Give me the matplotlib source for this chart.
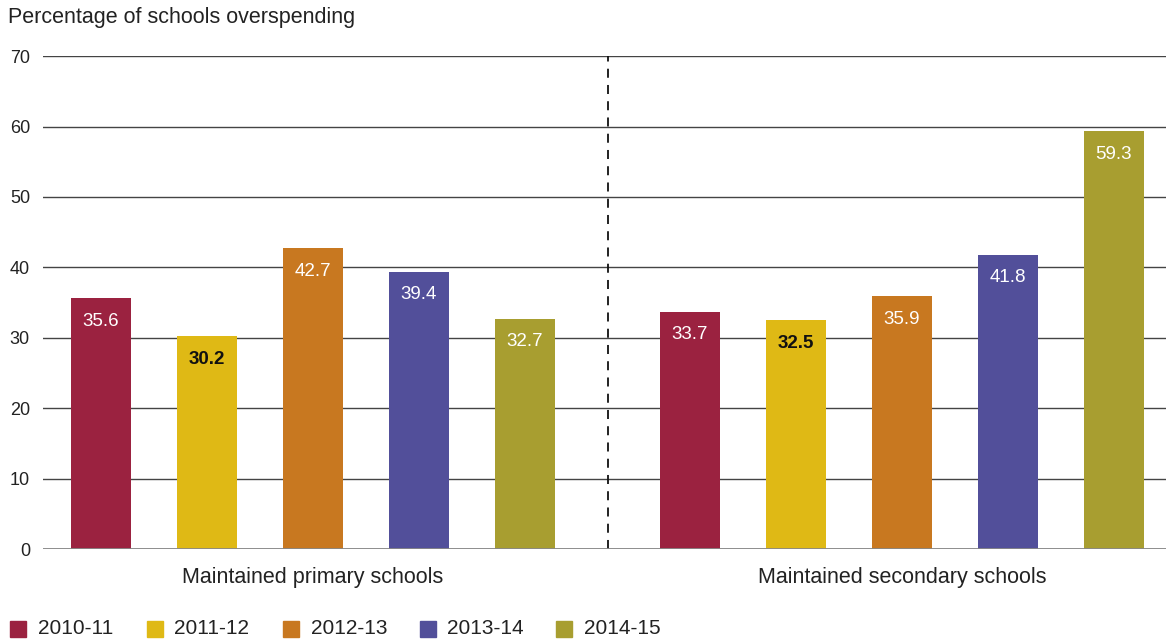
import matplotlib.pyplot as plt
import numpy as np

plt.rcParams['font.family'] = ['Liberation Sans', 'DejaVu Sans']

groups = ["Maintained primary schools", "Maintained secondary schools"]
years = ["2010-11", "2011-12", "2012-13", "2013-14", "2014-15"]
values = {
    "2010-11": [35.6, 33.7],
    "2011-12": [30.2, 32.5],
    "2012-13": [42.7, 35.9],
    "2013-14": [39.4, 41.8],
    "2014-15": [32.7, 59.3],
}
colors = ["#9b2240", "#dfb915", "#c87820", "#524f9a", "#a89e30"]
label_colors = ["white", "#111111", "white", "white", "white"]

text_col = "#222222"
group_offset = 5.557
bar_w = 0.57
W, H = 1166, 641

fig = plt.figure(figsize=(W / 100, H / 100), dpi=100)
ax = fig.add_axes([43 / W, 0.1435, 1 - 43 / W, 0.769])

for g in range(len(groups)):
    for i, yr in enumerate(years):
        x = g * group_offset + i
        v = values[yr][g]
        ax.bar(x, v, width=bar_w, color=colors[i], zorder=3)
        ax.text(x, v - 3.3, f"{v:.1f}", ha="center", va="center", fontsize=13.5,
                color=label_colors[i], zorder=4,
                fontweight="bold" if label_colors[i] != "white" else "normal")
    ax.text(g * group_offset + 2, -4.0, groups[g], ha="center", va="center",
            fontsize=15.5, color=text_col)

ax.set_ylim(0, 70)
ax.set_xlim(-0.547, 10.05)
ax.set_yticks(np.arange(0, 71, 10))
ax.yaxis.grid(True, color="#444444", linewidth=1, zorder=0)
ax.set_axisbelow(True)
ax.axhline(0, color="#888888", linewidth=2, zorder=5)
ax.axvline(4.78, color="#111111", linestyle=(0, (5, 4)), linewidth=1.3, zorder=2)

ax.tick_params(axis="y", length=0, pad=9.4, labelsize=13, labelcolor=text_col)
ax.set_xticks([])
for s in ax.spines.values():
    s.set_visible(False)

fig.text(0.007, 0.972, "Percentage of schools overspending", fontsize=15.5,
         color=text_col, va="center", ha="left")

# legend along the bottom edge
for i, yr in enumerate(years):
    x0 = 10 + i * 136.5
    fig.patches.append(plt.Rectangle((x0 / W, 4.3 / H), 16 / W, 16 / H,
                                     transform=fig.transFigure, color=colors[i]))
    fig.text((x0 + 27.7) / W, 12.3 / H, yr, fontsize=15,
             color=text_col, va="center", ha="left")

fig.savefig("out.png", dpi=100)
